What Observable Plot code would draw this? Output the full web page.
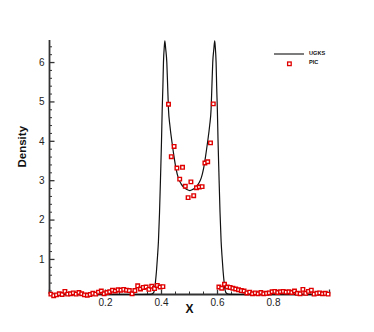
<!DOCTYPE html>
<html>
<head>
<meta charset="utf-8">
<script src="https://cdn.jsdelivr.net/npm/d3@7"></script>
<script src="https://cdn.jsdelivr.net/npm/@observablehq/plot@0.6"></script>
<style>
  html, body { margin: 0; padding: 0; background: #fff; }
  #wrap { position: relative; width: 374px; height: 332px; overflow: hidden; font-family: "Liberation Sans", Arial, Helvetica, sans-serif; }
  #legend { position: absolute; left: 270px; top: 48px; }
  #legend .row { display: flex; align-items: center; height: 9.5px; }
  #legend .sym { width: 38px; height: 9.5px; display: block; }
  #legend .lab { font-size: 5.6px; font-weight: bold; color: #111; margin-left: 1px; line-height: 9.5px; padding-top: 1px; }
</style>
</head>
<body>
<div id="wrap">
  <div id="chart"></div>
  <div id="legend"></div>
</div>
<script>
// ---- UGKS curve (x, density) ----
const ugksX = [0, 0.1, 0.2, 0.3, 0.36, 0.37, 0.375, 0.378, 0.382, 0.386, 0.389, 0.393, 0.397, 0.4, 0.4025, 0.405, 0.407, 0.41, 0.412, 0.415, 0.419, 0.422, 0.425, 0.43, 0.438, 0.445, 0.452, 0.46, 0.47, 0.48, 0.49, 0.501, 0.512, 0.522, 0.532, 0.542, 0.55, 0.557, 0.564, 0.572, 0.577, 0.58, 0.583, 0.587, 0.59, 0.592, 0.595, 0.597, 0.5995, 0.602, 0.605, 0.609, 0.613, 0.616, 0.62, 0.624, 0.627, 0.632, 0.642, 0.7, 0.8, 0.9, 1.0];
const ugksY = [0.11, 0.11, 0.11, 0.11, 0.115, 0.14, 0.22, 0.4, 0.7, 1.1, 1.45, 2.2, 3.2, 4.0, 4.8, 5.4, 6.0, 6.4, 6.55, 6.35, 6.0, 5.4, 4.8, 4.4, 3.95, 3.6, 3.3, 3.07, 2.92, 2.83, 2.78, 2.75, 2.78, 2.83, 2.92, 3.07, 3.3, 3.6, 3.95, 4.4, 4.8, 5.4, 6.0, 6.35, 6.55, 6.4, 6.0, 5.4, 4.8, 4.0, 3.2, 2.2, 1.45, 1.1, 0.7, 0.4, 0.22, 0.14, 0.115, 0.11, 0.11, 0.11, 0.11];

// ---- PIC samples (x, density) ----
const picX = [0.005, 0.015, 0.025, 0.035, 0.045, 0.055, 0.065, 0.075, 0.085, 0.095,
  0.105, 0.115, 0.125, 0.135, 0.145, 0.155, 0.165, 0.175, 0.185, 0.195,
  0.205, 0.215, 0.225, 0.235, 0.245, 0.255, 0.265, 0.275, 0.285, 0.295,
  0.305, 0.315, 0.325, 0.335, 0.345, 0.355, 0.365, 0.375, 0.385, 0.395,
  0.405, 0.425, 0.435, 0.445, 0.455, 0.465, 0.475, 0.485, 0.495,
  0.505, 0.515, 0.525, 0.535, 0.545, 0.555, 0.565, 0.575, 0.585,
  0.605, 0.615, 0.625, 0.635, 0.645, 0.655, 0.665, 0.675, 0.685, 0.695,
  0.705, 0.715, 0.725, 0.735, 0.745, 0.755, 0.765, 0.775, 0.785, 0.795,
  0.805, 0.815, 0.825, 0.835, 0.845, 0.855, 0.865, 0.875, 0.885, 0.895,
  0.905, 0.915, 0.925, 0.935, 0.945, 0.955, 0.965, 0.975, 0.985, 0.995];
const picY = [0.12, 0.08, 0.10, 0.13, 0.11, 0.19, 0.12, 0.13, 0.15, 0.12,
  0.16, 0.13, 0.10, 0.09, 0.11, 0.14, 0.12, 0.17, 0.20, 0.13,
  0.16, 0.18, 0.22, 0.20, 0.23, 0.22, 0.24, 0.22, 0.21, 0.13,
  0.21, 0.33, 0.25, 0.29, 0.30, 0.24, 0.32, 0.26, 0.34, 0.30,
  0.31, 4.94, 3.61, 3.87, 3.32, 3.04, 3.34, 2.86, 2.57,
  2.97, 2.62, 2.82, 2.84, 2.85, 3.45, 3.48, 3.96, 4.95,
  0.30, 0.27, 0.37, 0.30, 0.29, 0.27, 0.25, 0.23, 0.21, 0.20,
  0.15, 0.17, 0.13, 0.15, 0.13, 0.16, 0.13, 0.14, 0.15, 0.18,
  0.19, 0.16, 0.18, 0.19, 0.17, 0.18, 0.16, 0.20, 0.14, 0.13,
  0.24, 0.14, 0.19, 0.22, 0.12, 0.14, 0.15, 0.13, 0.14, 0.12];

// ---- axes ----
const xDomain = [0, 1];
const yDomain = [0.11, 6.56];
const xMajor = [0, 0.2, 0.4, 0.6, 0.8, 1.0];
const xLabels = [0.2, 0.4, 0.6, 0.8];
const xMinor = [0.05, 0.1, 0.15, 0.25, 0.3, 0.35, 0.45, 0.5, 0.55, 0.65, 0.7, 0.75, 0.85, 0.9, 0.95];
const yMajor = [1, 2, 3, 4, 5, 6];
const yMinor = [0.2, 0.4, 0.6, 0.8, 1.2, 1.4, 1.6, 1.8, 2.2, 2.4, 2.6, 2.8, 3.2, 3.4, 3.6, 3.8, 4.2, 4.4, 4.6, 4.8, 5.2, 5.4, 5.6, 5.8, 6.2, 6.4];
const xTitle = "X";
const yTitle = "Density";
const seriesNames = ["UGKS", "PIC"];

const ugks = ugksX.map((x, i) => ({x, y: ugksY[i]}));
const pic = picX.map((x, i) => ({x, y: picY[i]}));

const axisColor = "#333";
const red = "#e00000";
const font = "'Liberation Sans', Arial, Helvetica, sans-serif";
const blank = () => "";

const chart = Plot.plot({
  width: 374,
  height: 332,
  marginLeft: 49,
  marginRight: 45,
  marginTop: 40,
  marginBottom: 38,
  style: {fontFamily: font, background: "white", overflow: "visible"},
  x: {domain: xDomain},
  y: {domain: yDomain},
  marks: [
    // tick labels
    Plot.axisX(xLabels, {tickSize: 0, tickPadding: 4, fontSize: 10, fill: "#222", label: null, tickFormat: d => d.toFixed(1)}),
    Plot.axisY(yMajor, {tickSize: 0, tickPadding: 5, fontSize: 10, fill: "#222", label: null}),
    // inward ticks
    Plot.axisX(xMajor, {tickSize: -4.5, tickFormat: blank, label: null, stroke: axisColor, strokeWidth: 1.3}),
    Plot.axisX(xMinor, {tickSize: -2.5, tickFormat: blank, label: null, stroke: axisColor, strokeWidth: 1}),
    Plot.axisY(yMajor, {tickSize: -5.5, tickFormat: blank, label: null, stroke: axisColor, strokeWidth: 1.3}),
    Plot.axisY(yMinor, {tickSize: -3, tickFormat: blank, label: null, stroke: axisColor, strokeWidth: 1}),
    // axis lines
    Plot.ruleY([yDomain[0]], {x1: xDomain[0], x2: xDomain[1], stroke: axisColor, strokeWidth: 1.8}),
    Plot.ruleX([xDomain[0]], {y1: yDomain[0], y2: yDomain[1], stroke: axisColor, strokeWidth: 1.8}),
    // titles
    Plot.text([xTitle], {frameAnchor: "bottom", dy: 18, fontSize: 12, fontWeight: "bold", fill: "#111"}),
    Plot.text([yTitle], {frameAnchor: "left", dx: -27, rotate: -90, fontSize: 11.5, fontWeight: "bold", fill: "#111"}),
    // data
    Plot.line(ugks, {x: "x", y: "y", stroke: "#111", strokeWidth: 1.2, curve: "monotone-x"}),
    Plot.dot(pic, {x: "x", y: "y", symbol: "square", r: 2, stroke: red, strokeWidth: 1.4, fill: "white"})
  ]
});
document.getElementById("chart").appendChild(chart);

// legend
const legend = document.getElementById("legend");
legend.innerHTML = `
  <div class="row"><svg class="sym" viewBox="0 0 38 9.5"><line x1="4" x2="34" y1="6" y2="6" stroke="#111" stroke-width="1.1"/></svg><span class="lab">${seriesNames[0]}</span></div>
  <div class="row"><svg class="sym" viewBox="0 0 38 9.5"><rect x="17.6" y="4" width="3.6" height="3.6" fill="white" stroke="${red}" stroke-width="1.3"/></svg><span class="lab">${seriesNames[1]}</span></div>`;
</script>
</body>
</html>
